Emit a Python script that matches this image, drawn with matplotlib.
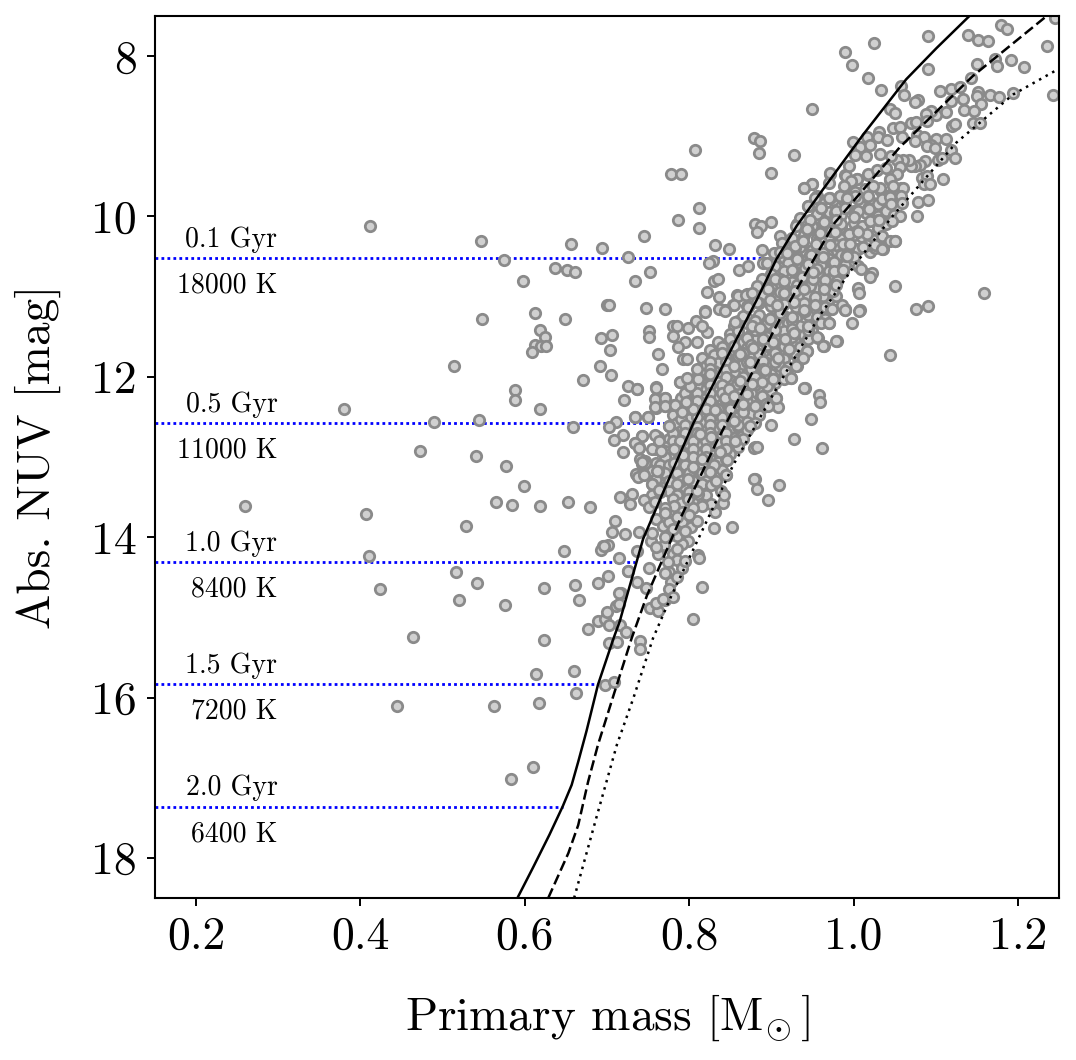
import matplotlib
matplotlib.use('Agg')
import matplotlib.pyplot as plt
import numpy as np

plt.rcParams['font.family'] = ['cmr10', 'DejaVu Serif']
plt.rcParams['mathtext.fontset'] = 'cm'
plt.rcParams['axes.formatter.use_mathtext'] = True
plt.rcParams['axes.unicode_minus'] = False

# isochrone-like tracks (mass, abs NUV)
solid_mass = [0.591,0.610,0.630,0.646,0.657,0.665,0.675,0.689,0.708,0.7155,0.724,0.744,0.770,0.805,0.845,0.8825,0.9063,0.931,0.963,0.988,1.012,1.064,1.101,1.141]
solid_nuv = [18.5,18.12,17.71,17.36,17.09,16.8,16.42,15.84,15.26,15.05,14.74,14.02,13.4,12.58,11.78,11.035,10.53,10.115,9.66,9.31,8.975,8.29,7.90,7.5]
dashed_mass = [0.6285,0.653,0.665,0.677,0.689,0.708,0.730,0.7485,0.79,0.833,0.875,0.9128,0.9225,0.977,1.056,1.145,1.235]
dashed_nuv = [18.5,17.94,17.59,17.05,16.59,15.97,15.26,14.73,13.75,12.82,11.98,11.23,11.06,10.08,9.14,8.25,7.5]
dotted_mass = [0.660,0.687,0.712,0.732,0.756,0.7786,0.8536,0.9104,0.959,1.004,1.048,1.125,1.194,1.25]
dotted_nuv = [18.5,17.5,16.59,16.01,15.26,14.725,13.1,12.07,11.235,10.57,9.99,9.08,8.48,8.157]

# age / temperature levels
level_nuv = [10.52,12.58,14.31,15.83,17.36]
level_end = [0.906,0.803,0.734,0.689,0.646]
ages = ['0.1 Gyr','0.5 Gyr','1.0 Gyr','1.5 Gyr','2.0 Gyr']
temps = ['18000 K','11000 K','8400 K','7200 K','6400 K']

# stars away from the main band
isolated_stars = [(0.4116,10.114),(0.5466,10.30),(0.5746,10.54),(0.5977,10.80),(0.656,10.34),(0.6366,10.64),(0.651,10.67),(0.661,10.69),
 (0.694,10.39),(0.725,10.51),(0.745,10.25),(0.734,10.80),(0.752,10.69),(0.778,9.47),(0.79,9.47),(0.807,9.17),(0.786,10.05),(0.812,9.89),(0.812,10.14),
 (0.548,11.28),(0.612,11.20),(0.649,11.28),(0.70,11.10),(0.618,11.42),(0.624,11.50),(0.612,11.60),(0.62,11.62),(0.626,11.62),(0.609,11.69),(0.514,11.86),
 (0.693,11.52),(0.706,11.48),(0.704,11.67),(0.691,11.87),(0.705,11.98),(0.671,12.04),(0.588,12.17),(0.588,12.29),(0.38,12.40),(0.618,12.40),
 (0.49,12.565),(0.544,12.54),(0.659,12.63),(0.472,12.93),(0.54,12.99),(0.577,13.11),(0.599,13.36),(0.2595,13.61),(0.565,13.56),(0.584,13.60),
 (0.618,13.61),(0.652,13.56),(0.679,13.62),(0.407,13.71),(0.528,13.86),(0.648,14.17),(0.695,14.11),(0.698,14.11),(0.693,14.16),(0.41,14.24),
 (0.424,14.65),(0.516,14.43),(0.542,14.57),(0.52,14.78),(0.576,14.85),(0.623,14.63),(0.661,14.60),(0.666,14.78),(0.689,14.57),(0.464,15.25),
 (0.623,15.28),(0.677,15.15),(0.613,15.71),(0.66,15.67),(0.444,16.10),(0.562,16.11),(0.617,16.07),(0.662,15.94),(0.61,16.86),(0.583,17.02),
 (0.689,15.05),(0.698,15.02),(0.703,15.32),(0.712,15.31),(0.697,15.84),(0.708,15.8),(0.70,14.93),(0.711,14.86),(0.714,14.83),(0.717,14.69),
 (0.716,15.1),(0.723,15.18),(0.702,15.1),(0.74,15.3),(0.74,15.4),(0.725,14.42),(0.736,14.56),(0.752,14.88),(0.762,14.92),(0.76,14.82),(0.77,14.78),(0.805,15.02),(0.815,14.62)]

# upper part of the sequence
upper_stars = [(1.090,7.755),(1.139,7.74),(1.152,7.80),(1.163,7.81),(1.179,7.61),(1.187,7.66),(1.245,7.52),(1.235,7.87),(1.025,7.84),(0.989,7.945),
 (0.998,8.11),(1.018,8.27),(1.034,8.425),(1.058,8.375),(1.062,8.48),(1.091,8.165),(1.150,8.10),(1.172,8.04),(1.175,8.12),(1.192,8.05),
 (1.207,8.14),(1.143,8.27),(1.105,8.44),(1.119,8.41),(1.130,8.38),(1.078,8.55),(1.075,8.575),(1.133,8.54),(1.118,8.56),(1.152,8.45),
 (1.150,8.495),(1.166,8.49),(1.177,8.51),(1.194,8.455),(1.243,8.49),(1.155,8.60),(1.134,8.675),(1.147,8.69),(1.113,8.70),(1.100,8.73),
 (1.094,8.68),(1.088,8.72),(1.089,8.815),(1.044,8.665),(1.050,8.71),(0.949,8.665),(1.070,8.835),(1.076,8.825),(1.048,8.90),(1.057,8.89),
 (1.031,8.95),(1.059,9.005),(1.016,9.015),(1.030,9.015),(1.041,9.05),(0.999,9.075),(1.008,9.13),(1.020,9.11),(1.032,9.215),(1.002,9.23),
 (1.015,9.24),(1.077,8.99),(1.086,9.01),(1.075,9.06),(1.100,9.03),(1.112,9.035),(1.094,9.105),(1.089,9.125),(1.099,9.145),(1.120,8.87),
 (1.124,8.85),(1.145,8.835),(1.154,8.835),(1.119,9.175),(1.124,9.275),(1.103,9.295),(1.108,9.275),(1.087,9.31),(1.081,9.355),(1.075,9.37),
 (1.070,9.365),(1.068,9.295),(1.060,9.295),(1.053,9.29),(1.046,9.24),(1.056,9.385),(1.053,9.475),(0.879,9.02),(0.886,9.06),(0.885,9.21),
 (0.928,9.235),(0.971,9.46),(0.900,9.46),(0.995,9.375),(1.018,9.475),(1.028,9.425),(1.040,9.395),(0.991,9.49),(1.004,9.53),(0.997,9.56),
 (0.970,9.58),(0.950,9.59),(0.940,9.64),(0.988,9.625),(1.083,9.52),(1.089,9.50),(1.109,9.535),(1.086,9.60),(1.093,9.595),(1.044,9.53),
 (1.032,9.65),(1.060,9.65),(1.048,9.625),(1.014,9.655),(1.024,9.615),(0.953,9.765),(0.970,9.765),(0.983,9.75),(1.002,9.75),(0.992,9.77),
 (1.017,9.74),(1.035,9.78),(1.044,9.76),(1.058,9.74),(1.079,9.815),(1.090,9.80),(0.945,9.875),(0.961,9.90),(0.979,9.93),(0.990,9.89),
 (1.019,9.905),(1.045,9.84),(1.059,9.83),(0.880,10.10),(0.887,10.115),(0.900,10.075),(0.883,10.195),(0.935,10.025),(0.947,10.04),(0.964,10.07),
 (0.979,10.05),(1.000,10.01),(1.020,10.06),(1.031,10.04),(1.049,9.98),(1.057,10.00),(1.077,10.00),(1.047,10.055),(0.930,10.115),(0.943,10.155),
 (0.959,10.21),(0.977,10.195),(0.995,10.225),(1.016,10.215),(1.005,10.19),(0.910,10.25),(0.832,10.35),(0.849,10.41),(0.889,10.42),(0.913,10.335),
 (0.929,10.37),(0.939,10.31),(0.954,10.345),(0.971,10.36),(0.987,10.34),(0.996,10.34),(1.012,10.38),(1.026,10.36),(1.035,10.40),(1.044,10.31),
 (1.051,10.30),(0.903,10.455),(0.910,10.44),(0.919,10.45),(0.948,10.475),(0.931,10.53),(0.963,10.51),(0.992,10.495),(0.829,10.55),(0.824,10.58),
 (0.890,10.58),(0.895,10.58),(0.861,10.67),(0.871,10.62),(0.944,10.59),(0.976,10.57),(0.955,10.65),(0.925,10.665),(0.976,10.685),(0.987,10.67),
 (1.009,10.655),(1.022,10.71),(1.020,10.755),(0.830,10.805),(0.835,10.785),(0.889,10.785),(0.904,10.775),(0.915,10.805),(0.937,10.755),(0.951,10.775),
 (0.965,10.795),(0.951,10.69),(0.822,10.94),(0.836,11.0),(0.883,10.87),(0.896,10.91),(0.859,10.99),(0.869,10.975),(0.876,10.96),(0.910,10.94),
 (0.915,10.95),(0.929,10.935),(0.940,10.90),(0.953,11.005),(0.964,10.90),(0.979,10.86),(1.006,10.89),(1.007,10.96),(1.051,10.87),(1.159,10.955),
 (0.854,11.10),(0.837,11.15),(0.844,11.17),(0.819,11.18),(0.872,11.13),(0.898,11.045),(0.907,11.11),(0.882,11.07),(0.927,11.07),(0.940,11.17),
 (0.953,11.11),(0.974,11.15),(0.990,11.16),(0.986,11.10),(1.008,11.17),(1.076,11.16),(1.090,11.115)]

# lower part of the sequence
lower_stars = [(0.702,11.10),(0.747,11.14),(0.771,11.16),(0.819,11.19),(0.836,11.15),(0.844,11.18),(1.007,11.18),(0.990,11.17),(0.998,11.33),(0.970,11.33),
 (0.979,11.55),(1.044,11.73),(0.963,11.62),(0.956,11.50),(0.751,11.43),(0.751,11.50),(0.780,11.37),(0.785,11.37),(0.780,11.49),(0.798,11.395),
 (0.808,11.305),(0.822,11.44),(0.815,11.37),(0.795,11.56),(0.810,11.56),(0.787,11.63),(0.762,11.715),(0.792,11.78),(0.797,11.78),(0.767,11.905),
 (0.809,11.90),(0.725,12.12),(0.736,12.155),(0.760,12.14),(0.721,12.29),(0.759,12.28),(0.770,12.27),(0.758,12.38),(0.770,12.37),(0.783,12.35),
 (0.789,12.07),(0.797,12.02),(0.796,12.31),(0.734,12.495),(0.750,12.50),(0.711,12.56),(0.703,12.62),(0.775,12.61),(0.791,12.445),(0.720,12.73),
 (0.708,12.79),(0.742,12.735),(0.734,12.82),(0.739,12.885),(0.719,12.935),(0.759,12.72),(0.763,12.80),(0.755,12.90),(0.766,12.93),(0.740,13.03),
 (0.746,13.07),(0.743,13.06),(0.735,13.21),(0.738,13.245),(0.745,13.23),(0.761,13.175),(0.755,13.335),(0.763,13.415),(0.730,13.465),(0.716,13.505),
 (0.728,13.58),(0.745,13.535),(0.751,13.625),(0.759,13.555),(0.710,13.795),(0.706,13.94),(0.722,13.96),(0.739,13.93),(0.760,13.77),(0.753,14.05),
 (0.701,14.095),(0.696,14.11),(0.736,14.17),(0.714,14.26),(0.751,14.38),(0.726,14.425),(0.701,14.485),(0.715,14.69),(0.747,14.635),(0.768,14.77),
 (0.762,14.215),(0.769,14.10),(0.780,14.21),(0.785,14.29),(0.774,14.31),(0.791,14.385),(0.775,14.435),(0.778,14.56),(0.811,14.22),(0.812,14.26),
 (0.798,14.05),(0.791,14.08),(0.785,13.99),(0.774,13.985),(0.768,13.855),(0.776,13.81),(0.791,13.81),(0.802,13.875),(0.810,13.795),(0.830,13.88),
 (0.852,13.87),(0.831,13.69),(0.841,13.57),(0.842,13.48),(0.827,13.585),(0.815,13.605),(0.805,13.635),(0.791,13.69),(0.781,13.615),(0.770,13.64),
 (0.798,13.52),(0.809,13.42),(0.827,13.355),(0.833,13.295),(0.845,13.22),(0.846,13.04),(0.879,13.275),(0.882,13.405),(0.896,13.54),(0.909,13.35),
 (0.879,12.89),(0.883,12.88),(0.900,12.60),(0.928,12.77),(0.962,12.89),(0.948,12.52),(0.940,12.14),(0.958,12.225),(0.959,12.31),(0.908,12.38),
 (0.906,12.27),(0.896,12.36),(0.924,12.02),(0.930,11.865),(0.943,11.68),(0.939,11.76),
 (0.77,13.7),(0.785,13.75),(0.80,13.72),(0.78,13.9),(0.795,13.92),(0.755,13.95),(0.77,14.0),(0.76,14.12),(0.785,14.15),(0.795,14.3),(0.77,14.45),(0.785,14.5),(0.775,14.65),(0.78,14.75)]

# crowded middle of the band, read row by row
core_stars = [(0.96,9.82),(0.975,9.79),(0.99,9.83),(1.005,9.78),(1.02,9.81),(1.03,9.84),(1.05,9.79),
 (0.955,9.97),(0.97,9.94),(0.985,9.98),(1.0,9.93),(1.015,9.96),(1.03,9.99),(1.04,9.93),
 (0.95,10.12),(0.97,10.09),(0.985,10.13),(1.0,10.08),(1.01,10.12),(1.03,10.14),(1.04,10.09),
 (0.925,10.27),(0.94,10.23),(0.955,10.27),(0.97,10.24),(0.985,10.28),(1.0,10.23),(1.01,10.26),(1.025,10.29),(1.035,10.24),
 (0.92,10.42),(0.935,10.38),(0.95,10.42),(0.965,10.39),(0.98,10.43),(0.995,10.38),(1.005,10.41),(1.02,10.44),
 (0.915,10.52),(0.93,10.48),(0.945,10.52),(0.955,10.49),(0.97,10.53),(0.985,10.48),(1.0,10.51),
 (0.905,10.62),(0.92,10.58),(0.935,10.62),(0.95,10.59),(0.96,10.62),(0.975,10.58),(0.99,10.61),
 (0.90,10.72),(0.915,10.68),(0.93,10.72),(0.945,10.69),(0.96,10.73),(0.97,10.68),(0.985,10.71),
 (0.895,10.82),(0.91,10.78),(0.925,10.82),(0.94,10.79),(0.955,10.83),(0.97,10.78),(0.98,10.81),
 (0.885,10.92),(0.90,10.88),(0.915,10.92),(0.93,10.89),(0.945,10.92),(0.955,10.88),(0.97,10.91),
 (0.875,11.02),(0.89,10.98),(0.905,11.02),(0.92,10.99),(0.935,11.02),(0.945,10.98),(0.96,11.01),(0.97,11.03),
 (0.87,11.12),(0.885,11.08),(0.90,11.12),(0.915,11.09),(0.93,11.13),(0.94,11.08),(0.955,11.11),(0.965,11.13),
 (0.87,11.27),(0.885,11.23),(0.90,11.27),(0.915,11.24),(0.93,11.27),(0.945,11.23),(0.955,11.26),(0.965,11.28),
 (0.855,11.37),(0.87,11.33),(0.88,11.37),(0.895,11.34),(0.91,11.37),(0.92,11.33),(0.935,11.36),(0.95,11.38),(0.96,11.33),
 (0.85,11.47),(0.86,11.43),(0.875,11.47),(0.89,11.44),(0.90,11.47),(0.915,11.43),(0.93,11.46),(0.94,11.48),(0.95,11.43),
 (0.835,11.57),(0.85,11.53),(0.865,11.57),(0.88,11.54),(0.89,11.57),(0.905,11.53),(0.92,11.56),(0.93,11.58),(0.945,11.53),
 (0.825,11.67),(0.84,11.63),(0.855,11.67),(0.87,11.64),(0.885,11.67),(0.90,11.63),(0.91,11.66),(0.925,11.68),(0.935,11.63),
 (0.815,11.77),(0.83,11.73),(0.845,11.77),(0.86,11.74),(0.875,11.77),(0.89,11.73),(0.90,11.76),(0.915,11.78),(0.93,11.73),
 (0.82,11.87),(0.835,11.83),(0.85,11.87),(0.865,11.84),(0.88,11.87),(0.895,11.83),(0.91,11.86),(0.92,11.88),
 (0.815,11.97),(0.83,11.93),(0.84,11.97),(0.855,11.94),(0.87,11.97),(0.885,11.93),(0.90,11.96),(0.915,11.98),
 (0.805,12.07),(0.82,12.03),(0.835,12.07),(0.85,12.04),(0.86,12.07),(0.875,12.03),(0.89,12.06),(0.905,12.08),(0.915,12.03),
 (0.80,12.17),(0.815,12.13),(0.83,12.17),(0.845,12.14),(0.855,12.17),(0.87,12.13),(0.885,12.16),(0.90,12.18),
 (0.79,12.27),(0.805,12.23),(0.82,12.27),(0.835,12.24),(0.85,12.27),(0.865,12.23),(0.88,12.26),(0.89,12.28),
 (0.80,12.37),(0.815,12.33),(0.83,12.37),(0.84,12.34),(0.855,12.37),(0.87,12.33),(0.88,12.36),(0.89,12.38),
 (0.78,12.47),(0.81,12.43),(0.825,12.47),(0.84,12.44),(0.85,12.47),(0.865,12.43),(0.875,12.46),(0.885,12.48),
 (0.785,12.57),(0.80,12.53),(0.815,12.57),(0.83,12.54),(0.845,12.57),(0.855,12.53),(0.87,12.56),(0.88,12.58),
 (0.79,12.67),(0.805,12.63),(0.82,12.67),(0.835,12.64),(0.85,12.67),(0.86,12.63),(0.87,12.66),
 (0.775,12.77),(0.785,12.73),(0.80,12.77),(0.815,12.74),(0.83,12.77),(0.84,12.73),(0.855,12.76),(0.865,12.78),
 (0.77,12.87),(0.785,12.83),(0.795,12.87),(0.81,12.84),(0.825,12.87),(0.835,12.83),(0.85,12.86),(0.86,12.88),
 (0.775,12.97),(0.79,12.93),(0.80,12.97),(0.815,12.94),(0.83,12.97),(0.84,12.93),(0.85,12.96),
 (0.76,13.07),(0.77,13.03),(0.785,13.07),(0.80,13.04),(0.81,13.07),(0.825,13.03),(0.835,13.06),
 (0.755,13.17),(0.775,13.13),(0.79,13.17),(0.805,13.14),(0.82,13.17),(0.83,13.13),(0.84,13.16),
 (0.76,13.27),(0.77,13.23),(0.785,13.27),(0.80,13.24),(0.81,13.27),(0.825,13.23),
 (0.77,13.37),(0.78,13.33),(0.795,13.37),(0.805,13.34),(0.815,13.37),
 (0.755,13.47),(0.775,13.43),(0.785,13.47),(0.80,13.44),(0.82,13.47),
 (0.755,13.57),(0.78,13.53),(0.79,13.57),(0.805,13.54),
 (0.86,11.3),(0.88,11.3),(0.905,11.3),(0.925,11.31),(0.88,11.42),(0.905,11.42),(0.925,11.4),(0.945,11.42),(0.87,11.52),(0.895,11.5),(0.925,11.5),
 (0.855,11.62),(0.875,11.6),(0.895,11.6),(0.915,11.62),(0.84,11.7),(0.865,11.7),(0.885,11.72),(0.905,11.7),(0.825,11.82),(0.845,11.82),(0.87,11.82),
 (0.89,11.8),(0.905,11.82),(0.825,11.9),(0.845,11.92),(0.875,11.9),(0.89,11.9),(0.81,12.0),(0.825,12.0),(0.845,12.0),(0.865,12.0),(0.88,12.0),(0.895,12.0),
 (0.81,12.1),(0.825,12.1),(0.84,12.1),(0.865,12.1),(0.88,12.1),(0.895,12.12),(0.795,12.2),(0.81,12.2),(0.825,12.2),(0.84,12.2),(0.86,12.2),(0.875,12.2),
 (0.8,12.3),(0.81,12.3),(0.825,12.3),(0.845,12.3),(0.86,12.3),(0.875,12.3),(0.79,12.42),(0.805,12.4),(0.82,12.4),(0.835,12.4),(0.85,12.4),
 (0.79,12.52),(0.81,12.5),(0.825,12.52),(0.84,12.5),(0.86,12.5),(0.795,12.6),(0.81,12.62),(0.825,12.6),(0.84,12.6),(0.86,12.6),
 (0.78,12.7),(0.795,12.7),(0.81,12.7),(0.825,12.7),(0.845,12.7),(0.78,12.8),(0.79,12.8),(0.805,12.8),(0.82,12.8),(0.845,12.8),
 (0.77,12.92),(0.785,12.9),(0.805,12.9),(0.82,12.9),(0.845,12.9),(0.77,13.0),(0.79,13.0),(0.805,13.0),(0.82,13.0),
 (0.765,13.1),(0.775,13.1),(0.795,13.1),(0.815,13.1),(0.83,13.1),(0.77,13.2),(0.785,13.2),(0.80,13.2),(0.815,13.2),(0.775,13.3),(0.79,13.3),(0.805,13.3),(0.82,13.3)]

# second reading of the band from closer crops
crop_stars = [(0.789,12.07),(0.801,12.11),(0.811,12.03),(0.825,11.97),(0.797,12.32),(0.782,12.35),(0.770,12.26),(0.76,12.27),(0.76,12.39),(0.77,12.37),
 (0.76,12.13),(0.736,12.15),(0.75,12.505),(0.734,12.495),(0.776,12.61),(0.805,12.40),(0.813,12.71),(0.789,12.80),(0.781,12.90),(0.766,12.92),
 (0.762,12.755),(0.758,12.90),(0.742,12.735),(0.734,12.82),(0.739,12.88),(0.746,13.045),(0.742,13.09),(0.762,13.17),(0.736,13.23),(0.755,13.335),
 (0.764,13.44),(0.781,13.07),(0.793,12.98),(0.805,13.13),(0.799,13.27),(0.785,13.335),(0.815,13.025),(0.827,12.755),(0.845,13.025),(0.837,12.94),
 (0.845,13.23),(0.825,13.19),(0.815,13.335),(0.831,12.42),(0.854,12.55),(0.843,12.26),(0.858,12.09),(0.848,12.15),(0.870,12.32),(0.866,12.44),
 (0.880,12.88),(0.880,13.27),(0.874,12.61),(0.856,12.80),(0.839,13.42),(0.811,13.46),
 (0.858,10.985),(0.870,10.97),(0.853,11.10),(0.872,11.12),(0.866,11.24),(0.856,11.32),(0.876,11.37),(0.886,11.39),(0.898,11.28),(0.910,11.2),
 (0.925,11.26),(0.941,11.18),(0.927,11.45),(0.916,11.53),(0.902,11.57),(0.890,11.53),(0.878,11.64),(0.862,11.72),(0.854,11.86),(0.874,11.82),
 (0.892,11.91),(0.908,11.76),(0.922,11.65),(0.943,11.68),(0.935,11.76),(0.957,11.51),(0.945,11.37),(0.970,11.325),(0.980,11.55),(0.964,11.62),
 (0.990,11.17),(0.973,11.16),(0.963,10.99),(0.979,10.99),(0.931,11.86),(0.924,12.02),(0.916,11.93),(0.902,12.03),(0.888,12.07),(0.876,12.09),
 (0.862,12.05),(0.854,12.24),(0.870,12.22),(0.888,12.24),(0.906,12.27),(0.894,12.34),(0.880,12.36),(0.866,12.34),(0.941,12.14),
 (0.940,9.645),(0.950,9.59),(0.971,9.47),(0.989,9.48),(1.0036,9.53),(0.989,9.625),(1.002,9.69),(1.018,9.48),(1.032,9.665),(1.044,9.54),
 (1.046,9.83),(1.058,9.645),(1.044,9.73),(0.955,9.75),(0.971,9.77),(0.983,9.75),(0.961,9.895),(0.977,9.957),(0.945,9.874),(0.945,10.164),
 (0.931,10.10),(0.963,10.08),(0.991,9.895),(1.006,9.936),(1.018,9.895),(1.030,10.04),(1.004,10.185),(0.985,10.1),(0.973,10.185),(0.959,10.27),
 (0.939,10.31),(0.929,10.39),(0.947,10.475),(0.963,10.455),(0.979,10.35),(0.995,10.35),(1.016,10.35),(1.026,10.39),(1.036,10.41),(1.050,10.30),
 (0.927,10.68),(0.941,10.64),(0.957,10.70),(0.975,10.58),(0.991,10.495),(0.987,10.68),(1.006,10.62),(1.020,10.72),(0.963,10.83),(0.947,10.87),
 (0.931,10.85),(1.006,10.91),(0.975,10.93)]

stars = np.array(isolated_stars + core_stars + crop_stars + upper_stars + lower_stars)

fig = plt.figure(figsize=(10.76, 10.6), dpi=100)
ax = fig.add_axes([155/1076, 162/1060, 904/1076, 882/1060])

for y, x_end, age, temp in zip(level_nuv, level_end, ages, temps):
    ax.plot([0.15, x_end], [y, y], ls=(0, (1, 1.15)), color='blue', lw=2, zorder=1)
    ax.text(0.299, y - 0.23, age, ha='right', va='center', fontsize=20)
    ax.text(0.299, y + 0.34, temp, ha='right', va='center', fontsize=20)

ax.scatter(stars[:, 0], stars[:, 1], s=56, facecolor='#d0d0d0', edgecolor='#8a8a8a', linewidth=2, zorder=2)

ax.plot(solid_mass, solid_nuv, color='k', lw=1.8, zorder=3)
ax.plot(dashed_mass, dashed_nuv, color='k', lw=1.8, ls=(0, (4.2, 1.8)), zorder=3)
ax.plot(dotted_mass, dotted_nuv, color='k', lw=1.8, ls=(0, (1, 2)), zorder=3)

ax.set_xlim(0.15, 1.25)
ax.set_ylim(18.5, 7.5)
ax.set_xticks([0.2, 0.4, 0.6, 0.8, 1.0, 1.2])
ax.set_xticklabels(['0.2', '0.4', '0.6', '0.8', '1.0', '1.2'])
ax.set_yticks([8, 10, 12, 14, 16, 18])
ax.set_yticklabels(['8', '10', '12', '14', '16', '18'])
ax.tick_params(labelsize=33, width=1.4, length=6, pad=7)
for spine in ax.spines.values():
    spine.set_linewidth(1.5)
ax.set_xlabel(r'Primary mass [$\mathrm{M}_{\!\odot}$]', fontsize=34, labelpad=25)
ax.set_ylabel('Abs. NUV [mag]', fontsize=34, labelpad=22)

fig.savefig('out.png', dpi=100)
